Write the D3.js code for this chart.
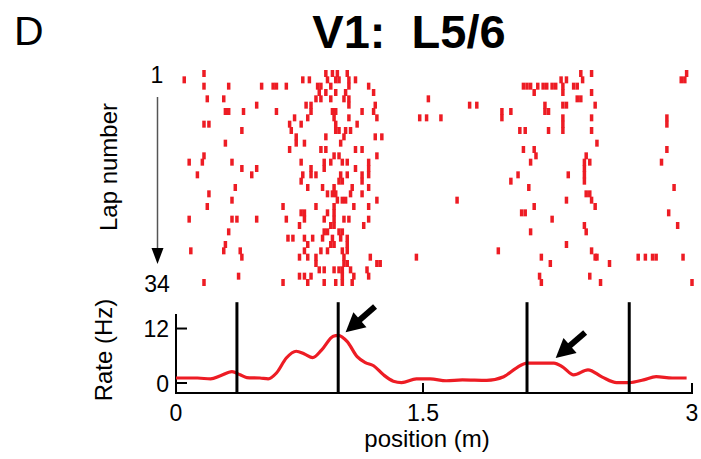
<!DOCTYPE html>
<html>
<head>
<meta charset="utf-8">
<script src="https://cdn.jsdelivr.net/npm/d3@7"></script>
<style>
  body { margin: 0; background: #fff; }
  text { font-family: "Liberation Sans", Arial, Helvetica, sans-serif; fill: #000; }
</style>
</head>
<body>
<div id="plot"></div>
<script>
// spike positions (m), one list per lap, lap 1 first
var laps = [
    [0.17, 0.91, 0.95, 0.98, 1.04, 2.38, 2.44, 2.97],
    [0.05, 0.77, 0.81, 0.92, 0.97, 0.99, 1.05, 1.09, 2.27, 2.30, 2.39, 2.94, 2.96],
    [0.17, 0.32, 0.52, 0.59, 0.61, 0.67, 0.86, 0.88, 0.94, 1.05, 1.17, 2.06, 2.08, 2.10, 2.14, 2.17, 2.19, 2.22, 2.24, 2.28, 2.34, 2.36],
    [0.87, 0.91, 0.97, 1.03, 1.20, 2.12, 2.28, 2.44],
    [0.19, 0.29, 0.85, 0.88, 0.94, 1.02, 1.05, 1.53, 2.36, 2.38],
    [0.49, 0.79, 0.82, 1.05, 1.21, 1.76, 1.80, 2.18, 2.28, 2.30, 2.46],
    [0.30, 0.32, 0.41, 0.61, 0.82, 0.95, 0.97, 1.13, 1.20, 1.94, 1.99, 2.18, 2.20],
    [0.72, 0.80, 0.96, 1.05, 1.22, 1.48, 1.52, 1.60, 1.94, 2.28, 2.44, 2.86],
    [0.17, 0.20, 0.69, 0.76, 0.97, 1.10, 2.28, 2.86],
    [0.40, 0.70, 0.97, 0.99, 1.03, 1.06, 2.04, 2.07, 2.20, 2.28, 2.44],
    [0.73, 0.91, 1.02, 1.21, 1.25],
    [0.30, 0.73, 0.78, 1.00, 2.47],
    [0.69, 0.88, 0.91, 1.09, 1.13, 2.06, 2.12, 2.86],
    [0.17, 0.96, 0.99, 1.22, 2.13, 2.41],
    [0.08, 0.16, 0.34, 0.76, 0.90, 0.94, 1.01, 1.04, 1.17, 2.10, 2.40, 2.43, 2.83],
    [0.40, 0.49, 0.82, 0.90, 1.09, 1.17, 2.40],
    [0.13, 0.46, 0.77, 0.82, 0.85, 1.00, 1.04, 1.13, 1.17, 2.03, 2.31, 2.40],
    [0.76, 0.99, 1.01, 1.13, 1.99, 2.40],
    [0.36, 0.80, 0.89, 0.96, 1.07, 1.17, 2.09, 2.90],
    [0.20, 0.92, 0.95, 0.97, 1.06, 1.13, 2.41, 2.43],
    [0.34, 0.98, 1.01, 1.03, 1.22, 1.69, 2.30, 2.44],
    [0.19, 0.65, 0.85, 0.96, 1.08, 1.17, 2.12, 2.46],
    [0.76, 0.78, 0.92, 0.96, 2.05, 2.07, 2.87],
    [0.08, 0.34, 0.37, 0.49, 0.67, 0.78, 0.90, 0.96, 1.02, 1.05, 1.17, 2.22],
    [0.75, 0.94, 0.96, 1.14, 2.40, 2.92],
    [0.32, 0.90, 0.92, 0.99, 1.01, 2.10, 2.41],
    [0.68, 0.71, 0.78, 0.83, 0.89, 0.95, 1.00, 1.04],
    [0.30, 0.80, 0.94, 0.96, 1.04, 2.30],
    [0.09, 0.29, 0.39, 0.78, 0.88, 0.92, 1.01, 1.04, 1.92, 2.44],
    [0.40, 0.75, 0.80, 0.85, 1.02, 1.18, 1.46, 2.16, 2.46, 2.47, 2.70, 2.74, 2.78, 2.80, 2.95],
    [0.85, 1.02, 1.04, 1.22, 1.24, 2.21, 2.54],
    [0.87, 0.90, 0.96, 0.99, 1.01, 1.06, 1.16],
    [0.38, 0.75, 0.78, 0.82, 1.01, 1.08, 1.17, 2.15, 2.43],
    [0.17, 0.65, 0.80, 0.90, 0.97, 1.01, 1.07, 2.16, 2.49, 3.00]
];

// firing rate curve
var rateX = [0.00, 0.13, 0.21, 0.27, 0.34, 0.39, 0.43, 0.51, 0.56, 0.61, 0.67, 0.73, 0.78, 0.83, 0.885,
    0.955, 0.985, 1.04, 1.10, 1.15, 1.20, 1.26, 1.32, 1.37, 1.46, 1.54, 1.63, 1.72, 1.855, 1.95,
    2.02, 2.08, 2.23, 2.28, 2.34, 2.42, 2.50, 2.58, 2.65, 2.73, 2.80, 2.89, 2.97];
var rateY = [1.1, 1.1, 0.9, 1.6, 2.5, 1.8, 1.2, 1.1, 0.9, 2.2, 5.5, 7.0, 6.4, 5.6, 7.3,
    10.3, 10.5, 9.1, 5.8, 4.5, 3.8, 1.8, 0.4, 0.1, 0.9, 0.9, 0.5, 0.7, 0.6, 1.4,
    3.3, 4.4, 4.4, 3.5, 1.8, 2.9, 1.3, 0.1, 0.1, 0.7, 1.4, 1.1, 1.1];

var boundaries = [0.37, 0.985, 2.08, 2.65];
var arrowX = [1.03, 2.24];
var arrowY = [11.2, 5.5];

var xTicks = [0, 1.5, 3];
var xTickLabels = ['0', '1.5', '3'];
var yTicks = [0, 12];
var lapTickLabels = ['1', '34'];

var red = '#ED1C24';

var svg = d3.select('#plot').append('svg')
    .attr('width', 701)
    .attr('height', 459);

svg.append('rect').attr('width', 701).attr('height', 459).attr('fill', '#fff');

var x = d3.scaleLinear().domain([0, 1.5, 3]).range([176, 423, 692]);
var lapY = d3.scaleLinear().domain([1, 34]).range([73.5, 282.5]);
var y = d3.scaleLinear().domain([-2.2, 15.2]).range([393, 314]);

// panel letter + title
svg.append('text')
    .attr('x', 14).attr('y', 45)
    .style('font-size', '41px')
    .text('D');

svg.append('text')
    .attr('x', 409).attr('y', 48)
    .attr('text-anchor', 'middle')
    .style('font-size', '47px')
    .style('font-weight', 'bold')
    .style('white-space', 'pre')
    .text('V1:  L5/6');

// raster
var spikes = [];
laps.forEach(function (row, i) {
    row.forEach(function (p) { spikes.push({ lap: i + 1, pos: p }); });
});

svg.append('g').selectAll('rect')
    .data(spikes)
    .enter()
    .append('rect')
    .attr('x', function (d) { return x(d.pos) - 1.75; })
    .attr('y', function (d) { return lapY(d.lap) - 3.5; })
    .attr('width', 3.5)
    .attr('height', 7)
    .attr('fill', red);

// lap labels and arrow
svg.selectAll('.lap-tick')
    .data([1, 34])
    .enter()
    .append('text')
    .attr('class', 'lap-tick')
    .attr('x', 157)
    .attr('y', function (d) { return lapY(d) + 9.5; })
    .attr('text-anchor', 'middle')
    .style('font-size', '23px')
    .text(function (d, i) { return lapTickLabels[i]; });

svg.append('line')
    .attr('x1', 157.5).attr('x2', 157.5)
    .attr('y1', 97).attr('y2', 250)
    .attr('stroke', '#555')
    .attr('stroke-width', 1.5);

svg.append('path')
    .attr('d', 'M151.5,248 L163.5,248 L157.5,264 Z')
    .attr('fill', '#000');

svg.append('text')
    .attr('transform', 'translate(117,167) rotate(-90)')
    .attr('text-anchor', 'middle')
    .style('font-size', '24px')
    .text('Lap number');

// rate panel axes
var axes = svg.append('g');

axes.append('line')
    .attr('x1', x(0)).attr('x2', x(0))
    .attr('y1', y.range()[1]).attr('y2', y.range()[0])
    .attr('stroke', '#000').attr('stroke-width', 2);

axes.append('line')
    .attr('x1', x(0) - 1).attr('x2', x(3) + 1)
    .attr('y1', y.range()[0]).attr('y2', y.range()[0])
    .attr('stroke', '#000').attr('stroke-width', 2);

yTicks.forEach(function (v) {
    axes.append('line')
        .attr('x1', x(0)).attr('x2', x(0) + 11)
        .attr('y1', y(v)).attr('y2', y(v))
        .attr('stroke', '#000').attr('stroke-width', 2);
    axes.append('text')
        .attr('x', x(0) - 7)
        .attr('y', y(v) + 8.5)
        .attr('text-anchor', 'end')
        .style('font-size', '23px')
        .text(v);
});

xTicks.forEach(function (v, i) {
    if (v > 0) {
        axes.append('line')
            .attr('x1', x(v)).attr('x2', x(v))
            .attr('y1', y.range()[0]).attr('y2', y.range()[0] - 10)
            .attr('stroke', '#000').attr('stroke-width', 2);
    }
    axes.append('text')
        .attr('x', x(v))
        .attr('y', 421)
        .attr('text-anchor', 'middle')
        .style('font-size', '23px')
        .text(xTickLabels[i]);
});

svg.append('text')
    .attr('x', 427).attr('y', 447)
    .attr('text-anchor', 'middle')
    .style('font-size', '24px')
    .text('position (m)');

svg.append('text')
    .attr('transform', 'translate(112,350) rotate(-90)')
    .attr('text-anchor', 'middle')
    .style('font-size', '24px')
    .text('Rate (Hz)');

// rate curve
var line = d3.line()
    .x(function (d, i) { return x(rateX[i]); })
    .y(function (d) { return y(d); })
    .curve(d3.curveMonotoneX);

svg.append('path')
    .datum(rateY)
    .attr('d', line)
    .attr('fill', 'none')
    .attr('stroke', red)
    .attr('stroke-width', 3.2);

// field boundaries
svg.selectAll('.bound')
    .data(boundaries)
    .enter()
    .append('line')
    .attr('class', 'bound')
    .attr('x1', function (d) { return x(d); })
    .attr('x2', function (d) { return x(d); })
    .attr('y1', y(17.8))
    .attr('y2', y(-2))
    .attr('stroke', '#000')
    .attr('stroke-width', 3);

// arrows pointing at field peaks
arrowX.forEach(function (v, i) {
    var tx = x(v), ty = y(arrowY[i]);
    var g = svg.append('g').attr('transform', 'translate(' + tx + ',' + ty + ') rotate(-41)');
    g.append('line')
        .attr('x1', 14).attr('x2', 39)
        .attr('y1', 0).attr('y2', 0)
        .attr('stroke', '#000').attr('stroke-width', 6);
    g.append('path')
        .attr('d', 'M0,0 L19,-10 L19,10 Z')
        .attr('fill', '#000');
});
</script>
</body>
</html>
